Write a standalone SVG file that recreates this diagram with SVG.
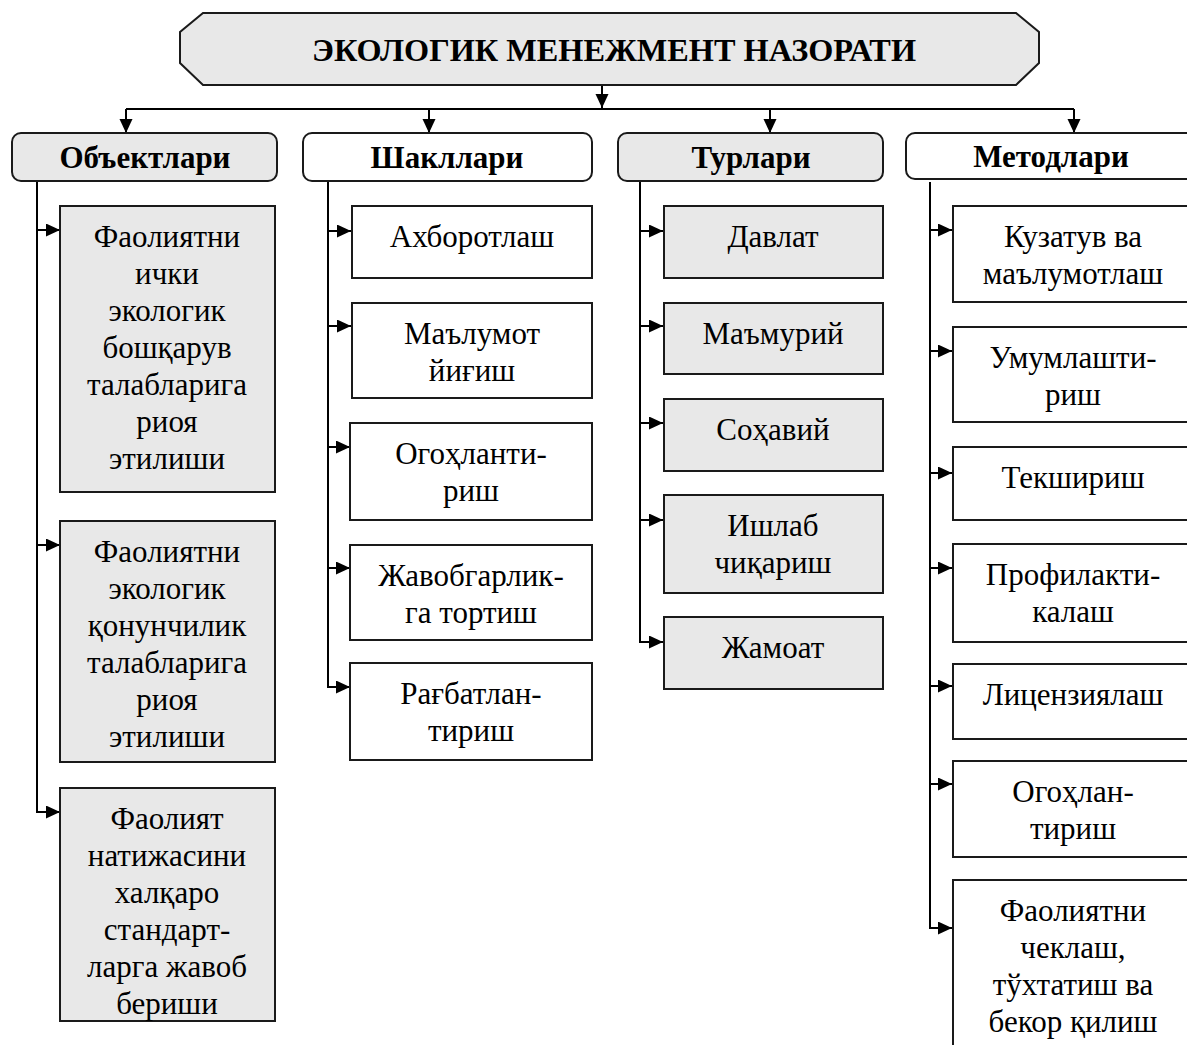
<svg xmlns="http://www.w3.org/2000/svg" width="1187" height="1045" viewBox="0 0 1187 1045">
<style>
.bg{fill:#ffffff}
.gray{fill:#e8e8e8;stroke:#1a1a1a;stroke-width:2}
.white{fill:#ffffff;stroke:#1a1a1a;stroke-width:2}
.t{font-family:"Liberation Serif","Times New Roman",serif;font-size:31px;fill:#000;text-anchor:middle}
.h{font-family:"Liberation Serif","Times New Roman",serif;font-size:31px;font-weight:bold;fill:#000;text-anchor:middle}
.ln{fill:none;stroke:#000;stroke-width:2}
</style>
<defs>
<marker id="ah" markerUnits="userSpaceOnUse" markerWidth="16" markerHeight="14" refX="14" refY="6.5" orient="auto">
<path d="M0,0 L14,6.5 L0,13 Z" fill="#000"/>
</marker>
</defs>
<rect class="bg" x="0" y="0" width="1187" height="1045"/>

<g id="connectors">
<line class="ln" x1="602" y1="85" x2="602" y2="108" marker-end="url(#ah)"/>
<line class="ln" x1="126" y1="109" x2="1074" y2="109"/>
<line class="ln" x1="126" y1="109" x2="126" y2="133" marker-end="url(#ah)"/>
<line class="ln" x1="429" y1="109" x2="429" y2="133" marker-end="url(#ah)"/>
<line class="ln" x1="770" y1="109" x2="770" y2="133" marker-end="url(#ah)"/>
<line class="ln" x1="1074" y1="109" x2="1074" y2="133" marker-end="url(#ah)"/>
<line class="ln" x1="37" y1="182" x2="37" y2="813"/>
<line class="ln" x1="37" y1="230" x2="60" y2="230" marker-end="url(#ah)"/>
<line class="ln" x1="37" y1="545" x2="60" y2="545" marker-end="url(#ah)"/>
<line class="ln" x1="37" y1="812" x2="60" y2="812" marker-end="url(#ah)"/>
<line class="ln" x1="328" y1="182" x2="328" y2="688"/>
<line class="ln" x1="328" y1="231" x2="351" y2="231" marker-end="url(#ah)"/>
<line class="ln" x1="328" y1="326" x2="351" y2="326" marker-end="url(#ah)"/>
<line class="ln" x1="328" y1="447" x2="350" y2="447" marker-end="url(#ah)"/>
<line class="ln" x1="328" y1="568" x2="350" y2="568" marker-end="url(#ah)"/>
<line class="ln" x1="328" y1="687" x2="350" y2="687" marker-end="url(#ah)"/>
<line class="ln" x1="640" y1="182" x2="640" y2="643"/>
<line class="ln" x1="640" y1="231" x2="663" y2="231" marker-end="url(#ah)"/>
<line class="ln" x1="640" y1="326" x2="663" y2="326" marker-end="url(#ah)"/>
<line class="ln" x1="640" y1="423" x2="663" y2="423" marker-end="url(#ah)"/>
<line class="ln" x1="640" y1="520" x2="663" y2="520" marker-end="url(#ah)"/>
<line class="ln" x1="640" y1="642" x2="663" y2="642" marker-end="url(#ah)"/>
<line class="ln" x1="930" y1="182" x2="930" y2="929"/>
<line class="ln" x1="930" y1="230" x2="952" y2="230" marker-end="url(#ah)"/>
<line class="ln" x1="930" y1="351" x2="952" y2="351" marker-end="url(#ah)"/>
<line class="ln" x1="930" y1="473" x2="952" y2="473" marker-end="url(#ah)"/>
<line class="ln" x1="930" y1="568" x2="952" y2="568" marker-end="url(#ah)"/>
<line class="ln" x1="930" y1="686" x2="952" y2="686" marker-end="url(#ah)"/>
<line class="ln" x1="930" y1="784" x2="952" y2="784" marker-end="url(#ah)"/>
<line class="ln" x1="930" y1="928" x2="952" y2="928" marker-end="url(#ah)"/>
</g>

<g id="title">
<polygon class="gray" points="203,13 1016,13 1039,32 1039,63 1016,85 203,85 180,63 180,32"/>
<text class="h" x="614" y="61" font-size="33" textLength="604" lengthAdjust="spacingAndGlyphs">ЭКОЛОГИК МЕНЕЖМЕНТ НАЗОРАТИ</text>
</g>

<g id="h-obyektlari">
<rect class="gray" x="12" y="133" width="265" height="48" rx="9"/>
<text class="h" x="145" y="168">Объектлари</text>
</g>
<g id="h-shakllari">
<rect class="white" x="303" y="133" width="289" height="48" rx="9"/>
<text class="h" x="447" y="168">Шакллари</text>
</g>
<g id="h-turlari">
<rect class="gray" x="618" y="133" width="265" height="48" rx="9"/>
<text class="h" x="751" y="168">Турлари</text>
</g>
<g id="h-metodlari">
<rect class="white" x="906" y="133" width="292" height="46" rx="9"/>
<text class="h" x="1051" y="167">Методлари</text>
</g>

<g id="o1">
<rect class="gray" x="60" y="206" width="215" height="286"/>
<text class="t" x="167" y="247">Фаолиятни</text>
<text class="t" x="167" y="284">ички</text>
<text class="t" x="167" y="321">экологик</text>
<text class="t" x="167" y="358">бошқарув</text>
<text class="t" x="167" y="395">талабларига</text>
<text class="t" x="167" y="432">риоя</text>
<text class="t" x="167" y="469">этилиши</text>
</g>
<g id="o2">
<rect class="gray" x="60" y="521" width="215" height="241"/>
<text class="t" x="167" y="562">Фаолиятни</text>
<text class="t" x="167" y="599">экологик</text>
<text class="t" x="167" y="636">қонунчилик</text>
<text class="t" x="167" y="673">талабларига</text>
<text class="t" x="167" y="710">риоя</text>
<text class="t" x="167" y="747">этилиши</text>
</g>
<g id="o3">
<rect class="gray" x="60" y="788" width="215" height="233"/>
<text class="t" x="167" y="829">Фаолият</text>
<text class="t" x="167" y="866">натижасини</text>
<text class="t" x="167" y="903">халқаро</text>
<text class="t" x="167" y="940">стандарт-</text>
<text class="t" x="167" y="977">ларга жавоб</text>
<text class="t" x="167" y="1014">бериши</text>
</g>

<g id="s1">
<rect class="white" x="352" y="206" width="240" height="72"/>
<text class="t" x="472" y="247">Ахборотлаш</text>
</g>
<g id="s2">
<rect class="white" x="352" y="303" width="240" height="95"/>
<text class="t" x="472" y="344">Маълумот</text>
<text class="t" x="472" y="381">йиғиш</text>
</g>
<g id="s3">
<rect class="white" x="350" y="423" width="242" height="97"/>
<text class="t" x="471" y="464">Огоҳланти-</text>
<text class="t" x="471" y="501">риш</text>
</g>
<g id="s4">
<rect class="white" x="350" y="545" width="242" height="95"/>
<text class="t" x="471" y="586">Жавобгарлик-</text>
<text class="t" x="471" y="623">га тортиш</text>
</g>
<g id="s5">
<rect class="white" x="350" y="663" width="242" height="97"/>
<text class="t" x="471" y="704">Рағбатлан-</text>
<text class="t" x="471" y="741">тириш</text>
</g>

<g id="t1">
<rect class="gray" x="664" y="206" width="219" height="72"/>
<text class="t" x="773" y="247">Давлат</text>
</g>
<g id="t2">
<rect class="gray" x="664" y="303" width="219" height="71"/>
<text class="t" x="773" y="344">Маъмурий</text>
</g>
<g id="t3">
<rect class="gray" x="664" y="399" width="219" height="72"/>
<text class="t" x="773" y="440">Соҳавий</text>
</g>
<g id="t4">
<rect class="gray" x="664" y="495" width="219" height="98"/>
<text class="t" x="773" y="536">Ишлаб</text>
<text class="t" x="773" y="573">чиқариш</text>
</g>
<g id="t5">
<rect class="gray" x="664" y="617" width="219" height="72"/>
<text class="t" x="773" y="658">Жамоат</text>
</g>

<g id="m1">
<rect class="white" x="953" y="206" width="240" height="96"/>
<text class="t" x="1073" y="247">Кузатув ва</text>
<text class="t" x="1073" y="284">маълумотлаш</text>
</g>
<g id="m2">
<rect class="white" x="953" y="327" width="240" height="95"/>
<text class="t" x="1073" y="368">Умумлашти-</text>
<text class="t" x="1073" y="405">риш</text>
</g>
<g id="m3">
<rect class="white" x="953" y="447" width="240" height="73"/>
<text class="t" x="1073" y="488">Текшириш</text>
</g>
<g id="m4">
<rect class="white" x="953" y="544" width="240" height="98"/>
<text class="t" x="1073" y="585">Профилакти-</text>
<text class="t" x="1073" y="622">калаш</text>
</g>
<g id="m5">
<rect class="white" x="953" y="664" width="240" height="75"/>
<text class="t" x="1073" y="705">Лицензиялаш</text>
</g>
<g id="m6">
<rect class="white" x="953" y="761" width="240" height="96"/>
<text class="t" x="1073" y="802">Огоҳлан-</text>
<text class="t" x="1073" y="839">тириш</text>
</g>
<g id="m7">
<rect class="white" x="953" y="880" width="240" height="180"/>
<text class="t" x="1073" y="921">Фаолиятни</text>
<text class="t" x="1073" y="958">чеклаш,</text>
<text class="t" x="1073" y="995">тўхтатиш ва</text>
<text class="t" x="1073" y="1032">бекор қилиш</text>
</g>
</svg>
